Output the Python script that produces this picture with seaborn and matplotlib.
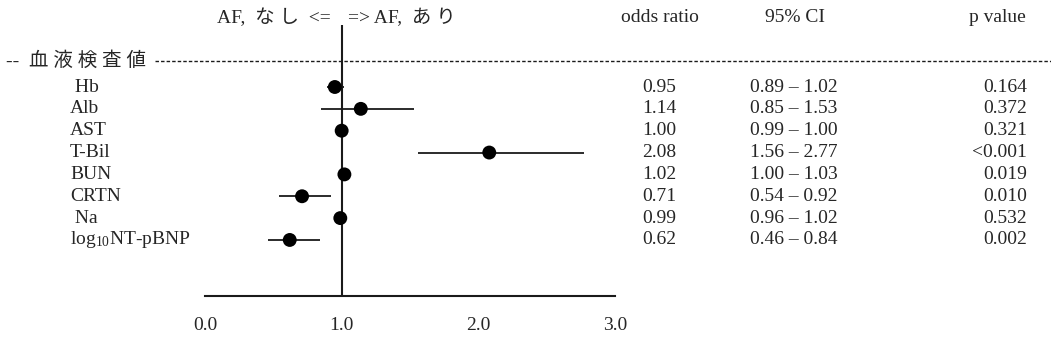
import numpy as np
import pandas as pd
import matplotlib.pyplot as plt
import seaborn as sns
from matplotlib.transforms import blended_transform_factory
from matplotlib.lines import Line2D

# forest plot data
labels = [" Hb", "Alb", "AST", "T-Bil", "BUN", "CRTN", " Na", "log$_{10}$NT-pBNP"]
odds = [0.95, 1.14, 1.00, 2.08, 1.02, 0.71, 0.99, 0.62]
ci_low = [0.89, 0.85, 0.99, 1.56, 1.00, 0.54, 0.96, 0.46]
ci_high = [1.02, 1.53, 1.00, 2.77, 1.03, 0.92, 1.02, 0.84]
pvals = ["0.164", "0.372", "0.321", "<0.001", "0.019", "0.010", "0.532", "0.002"]
xticks = [0.0, 1.0, 2.0, 3.0]

df = pd.DataFrame({"label": labels, "odds": odds, "lo": ci_low, "hi": ci_high,
                   "p": pvals, "row": np.arange(len(labels))})

sns.set_theme(style="white")
plt.rcParams['font.family'] = ['Liberation Serif', 'Noto Sans CJK JP']
plt.rcParams['mathtext.fontset'] = 'custom'
plt.rcParams['mathtext.rm'] = 'Liberation Serif'
plt.rcParams['mathtext.it'] = 'Liberation Serif'

W, H = 1051, 359
fig = plt.figure(figsize=(W / 100, H / 100), dpi=100)
# axes: x 0..3 spans px 205..615, y from px 25 (top) to 296 (bottom)
ax = fig.add_axes([205 / W, 1 - 296 / H, 410 / W, (296 - 25) / H])
row0, dy = 87, 21.85
ax.set_xlim(0, 3)
ax.set_ylim((296 - row0) / dy, (25 - row0) / dy)

ax.hlines(df["row"], df["lo"], df["hi"], color="#1a1a1a", lw=1.3)
sns.scatterplot(data=df, x="odds", y="row", ax=ax, color="black", s=100,
                edgecolor="none", zorder=3, legend=False)
ax.axvline(1.0, color="#1a1a1a", lw=1.5)

for s in ["top", "right", "left"]:
    ax.spines[s].set_visible(False)
ax.spines["bottom"].set_color("#1a1a1a")
ax.spines["bottom"].set_linewidth(1.5)
ax.set_xticks(xticks)
ax.set_xticklabels([f"{t:.1f}" for t in xticks], fontsize=14)
ax.tick_params(axis="x", length=0, pad=15)
ax.set_yticks([])
ax.set_xlabel("")
ax.set_ylabel("")

tr = blended_transform_factory(fig.transFigure, ax.transData)
fs = 14
for _, r in df.iterrows():
    ax.text(70 / W, r["row"], r["label"], transform=tr, fontsize=fs, va="center", ha="left")
    ax.text(659 / W, r["row"], f"{r['odds']:.2f}", transform=tr, fontsize=fs, va="center", ha="center")
    ax.text(794 / W, r["row"], f"{r['lo']:.2f} – {r['hi']:.2f}", transform=tr, fontsize=fs,
            va="center", ha="center")
    ax.text(1027 / W, r["row"], r["p"], transform=tr, fontsize=fs, va="center", ha="right")

# header
yh = (18 - row0) / dy
ax.text(331 / W, yh, "AF,  な し  <=", transform=tr, fontsize=fs, va="center", ha="right")
ax.text(348 / W, yh, "=> AF,  あ り", transform=tr, fontsize=fs, va="center", ha="left")
ax.text(660 / W, yh, "odds ratio", transform=tr, fontsize=fs, va="center", ha="center")
ax.text(795 / W, yh, "95% CI", transform=tr, fontsize=fs, va="center", ha="center")
ax.text(997 / W, yh, "p value", transform=tr, fontsize=fs, va="center", ha="center")

# section line
ys = (61 - row0) / dy
ax.text(6 / W, ys, "--  血 液 検 査 値", transform=tr, fontsize=fs, va="center", ha="left")
ax.add_line(Line2D([155 / W, 1.0], [ys, ys], transform=tr, color="#1a1a1a", lw=1,
                   linestyle=(0, (2.5, 1.5)), clip_on=False))

fig.savefig("out.png", dpi=100)
